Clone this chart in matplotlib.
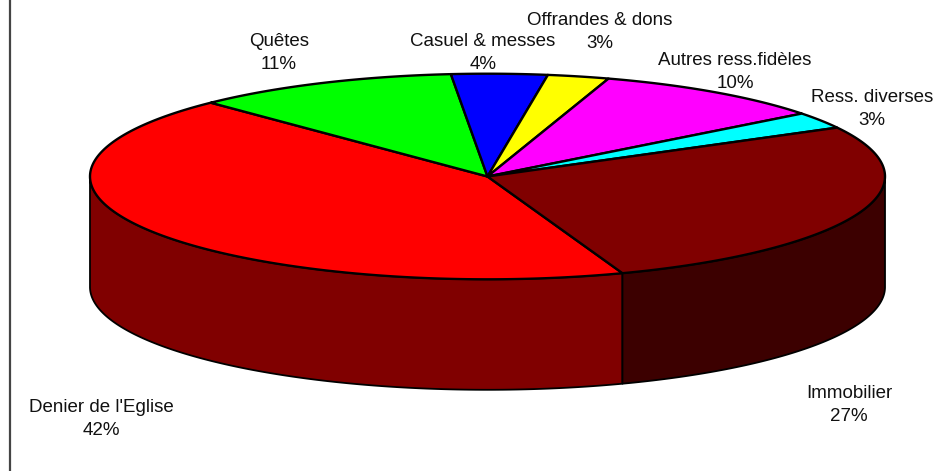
import numpy as np
import matplotlib
matplotlib.use("Agg")
import matplotlib.pyplot as plt

# Data (clockwise from the Denier wedge)
categories = ["Denier de l'Eglise", "Quêtes", "Casuel & messes", "Offrandes & dons",
              "Autres ress.fidèles", "Ress. diverses", "Immobilier"]
values = [43.3, 10.8, 3.9, 2.5, 9.6, 2.6, 27.4]      # drawn share of each slice
labels_pct = ["42%", "11%", "4%", "3%", "10%", "3%", "27%"]  # printed labels
top_colors = ["#ff0000", "#00ff00", "#0000ff", "#ffff00", "#ff00ff", "#00ffff", "#800000"]
side_colors = ["#800000", "#008000", "#000080", "#808000", "#800080", "#008080", "#3c0000"]
label_x = [101, 279, 483, 600, 735, 872, 849]
label_y = [419, 53, 53, 32, 72, 109, 405]

CX, CY, RX, RY, DEPTH = 487.5, 176.5, 397.5, 102.8, 110.5
START = 70.15

plt.rcParams["font.family"] = ["Liberation Sans", "DejaVu Sans"]
fig = plt.figure(figsize=(9.37, 4.71), dpi=100, facecolor="white")
ax = fig.add_axes([0, 0, 1, 1])
ax.set_xlim(0, 937)
ax.set_ylim(471, 0)
ax.axis("off")

def arc(a, b, dy=0.0, n=200):
    t = np.radians(np.linspace(a, b, n))
    return CX + RX * np.cos(t), CY + RY * np.sin(t) + dy

ang = START + np.concatenate([[0], np.cumsum(values)]) * 360.0 / sum(values)

# side walls (only the front half is visible)
for i in range(len(values)):
    for lo, hi in ((0, 180), (360, 540)):
        s, e = max(ang[i], lo), min(ang[i + 1], hi)
        if e <= s:
            continue
        x1, y1 = arc(s, e)
        x2, y2 = arc(e, s, DEPTH)
        ax.fill(np.r_[x1, x2], np.r_[y1, y2], facecolor=side_colors[i],
                edgecolor="black", lw=1.3, joinstyle="round", zorder=2)

# top face
for i in range(len(values)):
    x, y = arc(ang[i], ang[i + 1])
    ax.fill(np.r_[CX, x], np.r_[CY, y], facecolor=top_colors[i],
            edgecolor="black", lw=1.7, joinstyle="round", zorder=3)

# labels
for name, pct, lx, ly in zip(categories, labels_pct, label_x, label_y):
    ax.text(lx, ly, name + "\n" + pct, ha="center", va="center", fontsize=13.5,
            color="#111111", linespacing=1.47, zorder=4)

# frame line on the left
ax.plot([10, 10], [0, 471], color="#444444", lw=1.6, solid_capstyle="butt", zorder=1)

fig.savefig("out.png", dpi=100, facecolor="white")
